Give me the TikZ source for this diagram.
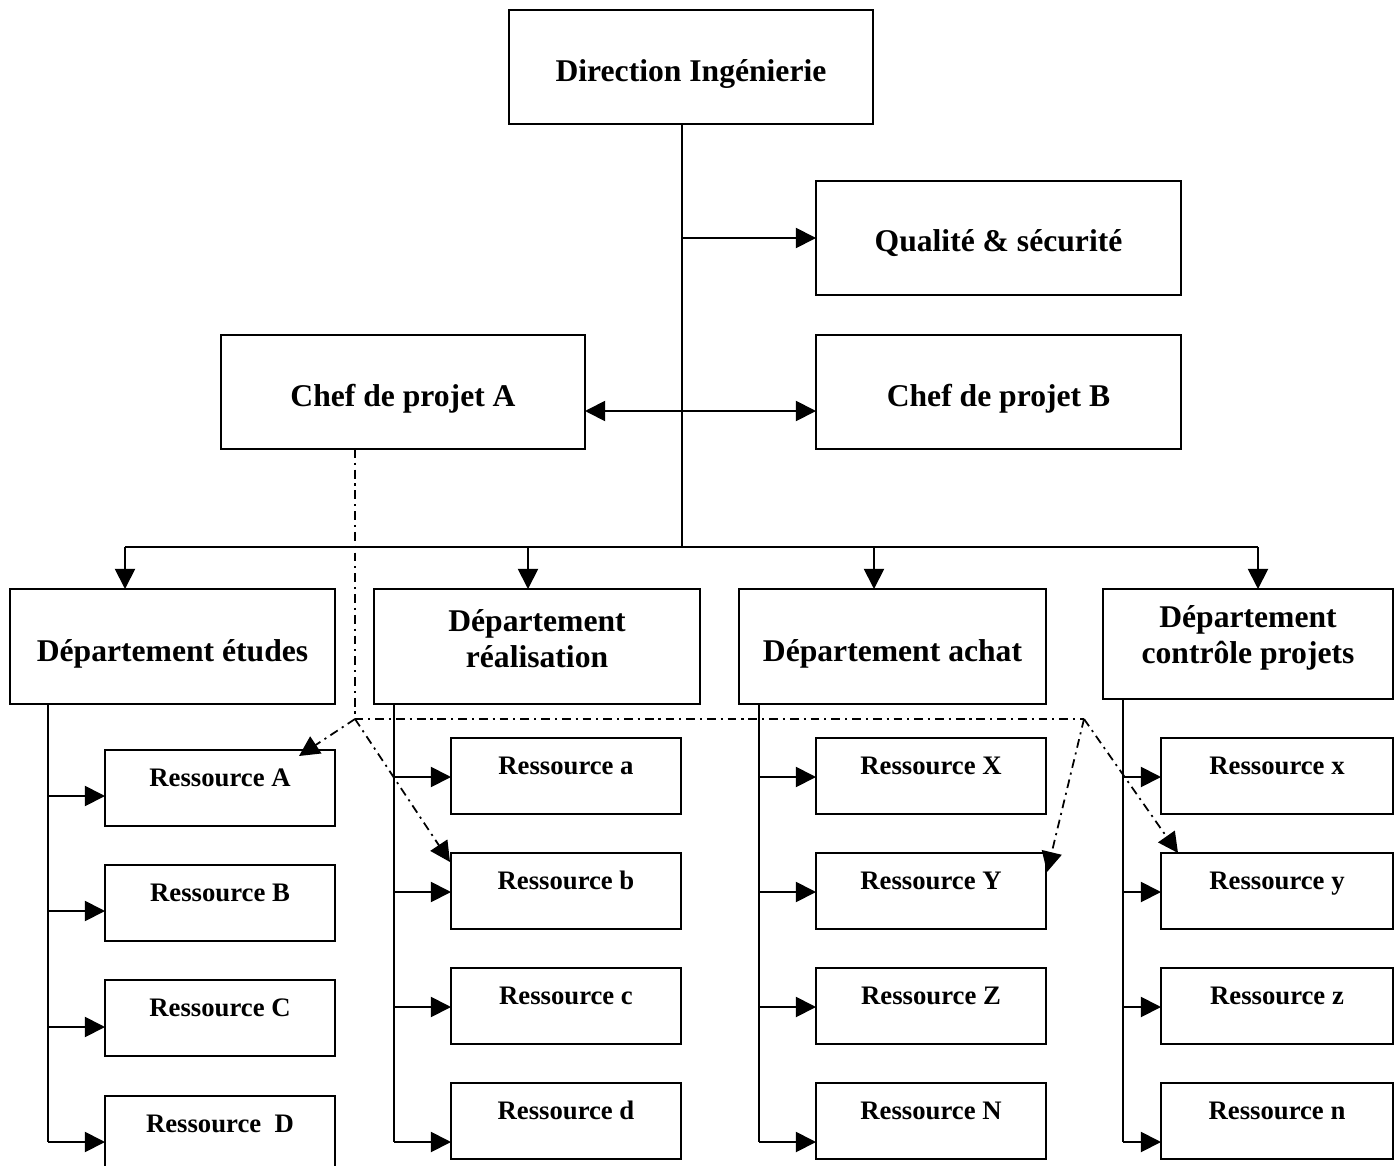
\documentclass[tikz,border=0pt]{standalone}
\usepackage{fontspec}
\setmainfont{Liberation Serif}
\usetikzlibrary{arrows.meta,calc}
\newcommand\bx[7][7]{\node[box, minimum width={(#5-#3)*0.02cm}, minimum height={(#6-#4)*0.02cm}] (#2) at ({(#3+#5)/2},{(#4+#6)/2}) {};
\node[btext] (#2-t) at ($(#2.center)+(0,#1)$) {#7};}
\newcommand\rbx[6]{\node[box, minimum width={(#4-#2)*0.02cm}, minimum height={(#5-#3)*0.02cm}] (#1) at ({(#2+#4)/2},{(#3+#5)/2}) {};
\node[rtext] (#1-t) at ($(#1.north)+(0,32)$) {#6};}
\begin{document}
\begin{tikzpicture}[x=0.02cm,y=-0.02cm,
 box/.style={draw, line width=1.05pt, inner sep=0pt, outer sep=0pt},
 btext/.style={font=\fontsize{18}{20.8}\selectfont\bfseries, align=center, inner sep=0pt},
 rtext/.style={font=\fontsize{15.2}{18}\selectfont\bfseries, text height=0.7em, text depth=0.2em, inner sep=0pt},
 ln/.style={line width=1.05pt},
 arr/.style={line width=1.05pt, -{Triangle[length=11.5pt,width=11.5pt]}},
 arrtwo/.style={line width=1.05pt, {Triangle[length=11.5pt,width=11.5pt]}-{Triangle[length=11.5pt,width=11.5pt]}},
 dd/.style={line width=1pt, dash pattern=on 5pt off 2.8pt on 1.2pt off 2.8pt},
 ddarr/.style={dd, -{Triangle[length=11.5pt,width=11.5pt]}},
]
\useasboundingbox (0,0) rectangle (1400,1166);
\clip (0,0) rectangle (1400,1166);
\fill[white] (0,0) rectangle (1400,1166);

% top boxes
\bx{dir}{509}{10}{873}{124}{Direction Ingénierie}
\bx[5]{qual}{816}{181}{1181}{295}{Qualité \& sécurité}
\bx{chB}{816}{335}{1181}{449}{Chef de projet B}
\bx{chA}{221}{335}{585}{449}{Chef de projet A}

% departments
\bx{et}{10}{589}{335}{704}{Département études}
\bx[-8]{re}{374}{589}{700}{704}{Département\\réalisation}
\bx{ac}{739}{589}{1046}{704}{Département achat}
\bx[-6]{co}{1103}{589}{1393}{699}{Département\\contrôle projets}

% resources column 1
\rbx{rA}{105}{750}{335}{826}{Ressource A}
\rbx{rB}{105}{865}{335}{941}{Ressource B}
\rbx{rC}{105}{980}{335}{1056}{Ressource C}
\rbx{rD}{105}{1096}{335}{1172}{Ressource~~D}
% column 2
\rbx{ra}{451}{738}{681}{814}{Ressource a}
\rbx{rb}{451}{853}{681}{929}{Ressource b}
\rbx{rc}{451}{968}{681}{1044}{Ressource c}
\rbx{rd}{451}{1083}{681}{1159}{Ressource d}
% column 3
\rbx{rX}{816}{738}{1046}{814}{Ressource X}
\rbx{rY}{816}{853}{1046}{929}{Ressource Y}
\rbx{rZ}{816}{968}{1046}{1044}{Ressource Z}
\rbx{rN}{816}{1083}{1046}{1159}{Ressource N}
% column 4
\rbx{rx}{1161}{738}{1393}{814}{Ressource x}
\rbx{ry}{1161}{853}{1393}{929}{Ressource y}
\rbx{rz}{1161}{968}{1393}{1044}{Ressource z}
\rbx{rn}{1161}{1083}{1393}{1159}{Ressource n}

% coordinates
\coordinate (trunk) at (682,547);
\coordinate (dy) at (0,411);
\coordinate (b1) at (125,547);
\coordinate (b2) at (528,547);
\coordinate (b3) at (874,547);
\coordinate (b4) at (1258,547);
\coordinate (c1) at (48,1142);
\coordinate (c2) at (394,1142);
\coordinate (c3) at (759,1142);
\coordinate (c4) at (1123,1142);
\coordinate (y1) at (0,796);
\coordinate (y2) at (0,911);
\coordinate (y3) at (0,1027);
\coordinate (yb1) at (0,777);
\coordinate (yb2) at (0,892);
\coordinate (yb3) at (0,1007);
\coordinate (cA) at (355,719);
\coordinate (cB) at (1084,719);
\coordinate (tA) at (299,756);
\coordinate (tb) at (450,862);
\coordinate (tY) at (1047,872);
\coordinate (ty) at (1178,853);

% trunk and bus
\draw[ln] (dir.south -| trunk) -- (trunk);
\draw[arr] (qual.west -| trunk) -- (qual.west);
\draw[arrtwo] (chA.east |- dy) -- (chB.west |- dy);
\draw[ln] (b1) -- (b4);
\draw[arr] (b1) -- (b1 |- et.north);
\draw[arr] (b2) -- (b2 |- re.north);
\draw[arr] (b3) -- (b3 |- ac.north);
\draw[arr] (b4) -- (b4 |- co.north);

% column 1
\draw[ln] (et.south -| c1) -- (c1);
\draw[arr] (c1 |- y1) -- (rA.west |- y1);
\draw[arr] (c1 |- y2) -- (rB.west |- y2);
\draw[arr] (c1 |- y3) -- (rC.west |- y3);
\draw[arr] (c1) -- (rD.west |- c1);
% column 2
\draw[ln] (re.south -| c2) -- (c2);
\draw[arr] (c2 |- yb1) -- (ra.west |- yb1);
\draw[arr] (c2 |- yb2) -- (rb.west |- yb2);
\draw[arr] (c2 |- yb3) -- (rc.west |- yb3);
\draw[arr] (c2) -- (rd.west |- c2);
% column 3
\draw[ln] (ac.south -| c3) -- (c3);
\draw[arr] (c3 |- yb1) -- (rX.west |- yb1);
\draw[arr] (c3 |- yb2) -- (rY.west |- yb2);
\draw[arr] (c3 |- yb3) -- (rZ.west |- yb3);
\draw[arr] (c3) -- (rN.west |- c3);
% column 4
\draw[ln] (co.south -| c4) -- (c4);
\draw[arr] (c4 |- yb1) -- (rx.west |- yb1);
\draw[arr] (c4 |- yb2) -- (ry.west |- yb2);
\draw[arr] (c4 |- yb3) -- (rz.west |- yb3);
\draw[arr] (c4) -- (rn.west |- c4);

% dash-dot links from Chef de projet A
\draw[dd] (chA.south -| cA) -- (cA) -- (cB);
\draw[ddarr] (cA) -- (tA);
\draw[ddarr] (cA) -- (tb);
\draw[ddarr] (cB) -- (tY);
\draw[ddarr] (cB) -- (ty);
\end{tikzpicture}
\end{document}
